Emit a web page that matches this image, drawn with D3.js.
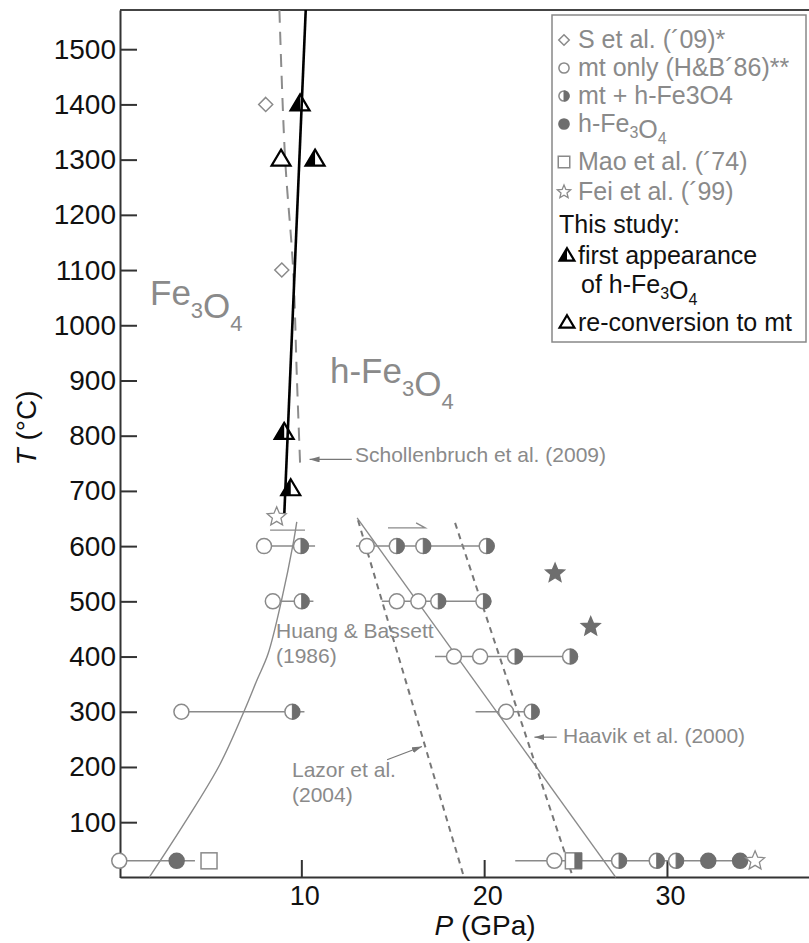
<!DOCTYPE html>
<meta charset="utf-8">
<head>
    <title>Fe3O4 P-T diagram</title>
    <script src="https://cdn.jsdelivr.net/npm/d3@7"></script>
    <style>
        body { margin: 0; background: #fff; }
        text { font-family: "Liberation Sans", Arial, Helvetica, sans-serif; }
    </style>
</head>
<body>
<div id="chart"></div>
<script>
    var width = 809, height = 943;

    // ---- data (P in GPa, T in degC) ----
    var yTicks = [100, 200, 300, 400, 500, 600, 700, 800, 900, 1000, 1100, 1200, 1300, 1400, 1500];
    var xTicks = [10, 20, 30];

    // horizontal run lines: temperature, start P, end P
    var runT = [600, 600, 500, 500, 400, 300, 300, 30, 30];
    var runFrom = [7.63, 12.99, 8.44, 14.4, 17.31, 3.44, 19.53, 0.04, 21.7];
    var runTo = [10.75, 20.49, 10.66, 20.2, 25.07, 10.17, 22.6, 4.18, 34.4];

    var openCircles = [[7.96, 600], [13.58, 600], [8.44, 500], [15.22, 500], [16.4, 500],
        [18.35, 400], [19.78, 400], [3.44, 300], [21.2, 300], [0.04, 30], [23.84, 30]];
    var halfCircles = [[9.98, 600], [15.22, 600], [16.67, 600], [20.14, 600], [10.02, 500],
        [17.49, 500], [19.96, 500], [21.69, 400], [24.7, 400], [9.51, 300], [22.6, 300],
        [27.38, 30], [29.44, 30], [30.5, 30]];
    var filledCircles = [[3.18, 30], [32.26, 30], [34.0, 30]];
    var maoSquares = [[4.95, 30]];
    var maoHalfSquares = [[24.88, 30]];
    var feiOpenStars = [[8.65, 653], [34.82, 30]];
    var feiFilledStars = [[23.88, 551], [25.83, 454]];
    var sDiamonds = [[8.05, 1400], [8.93, 1100]];
    var triFirst = [[9.93, 1400], [10.75, 1300], [9.06, 805], [9.42, 703]];
    var triReconv = [[8.89, 1300]];

    // boundaries
    var thisStudyLine = [[9.07, 660], [10.24, 1571]];
    var schollLine = [[8.80, 1571], [9.11, 1303], [9.55, 1102], [9.76, 901], [9.93, 751]];
    var hbCurve = [[1.68, 0], [3.64, 100], [5.55, 205], [6.92, 305], [7.58, 358],
        [8.18, 405], [8.93, 504], [9.55, 604], [9.75, 644]];
    var hbLine = [[13.05, 651], [27.2, 0]];
    var lazorLine = [[13.1, 647], [18.9, 0]];
    var haavikLine = [[18.41, 642], [24.86, 0]];
    var feiBar = [[8.29, 629], [10.2, 629]];

    var legendLabels = ["S et al. (\u00b409)*", "mt only (H&B\u00b486)**", "mt + h-Fe3O4", "h-Fe_3O_4",
        "Mao et al. (\u00b474)", "Fei et al. (\u00b499)", "This study:", "first appearance",
        "of h-Fe_3O_4", "re-conversion to mt"];
    var legendSymbols = ["diamond", "open", "half", "filled", "square", "star", null, "triFirst", null, "triOpen"];

    // ---- setup ----
    var gray = "#8a8a8a", dark = "#6e6e6e";

    var svg = d3.select("#chart").append("svg")
        .attr("width", width)
        .attr("height", height);

    svg.append("defs").append("marker")
        .attr("id", "arr")
        .attr("viewBox", "0 0 10 6")
        .attr("refX", 10).attr("refY", 3)
        .attr("markerWidth", 10).attr("markerHeight", 6)
        .attr("markerUnits", "userSpaceOnUse")
        .attr("orient", "auto")
        .append("path").attr("d", "M0,0L10,3L0,6Z").attr("fill", "#777");

    var x = d3.scaleLinear().domain([0.08, 37.77]).range([120, 809]);
    var y = d3.scaleLinear().domain([0, 1571]).range([877.4, 10]);

    var line = d3.line().x(d => x(d[0])).y(d => y(d[1]));

    // frame top
    svg.append("line")
        .attr("x1", 120).attr("x2", width)
        .attr("y1", 10).attr("y2", 10)
        .attr("stroke", "#444").attr("stroke-width", 2);

    // axes
    var yAxis = svg.append("g")
        .attr("transform", "translate(120,0)")
        .call(d3.axisLeft(y).tickValues(yTicks).tickFormat(d3.format("d"))
            .tickSize(-17).tickSizeOuter(0).tickPadding(4));
    yAxis.selectAll("text").attr("font-size", 28).attr("fill", "#111");

    var xAxis = svg.append("g")
        .attr("transform", "translate(0,877)")
        .call(d3.axisBottom(x).tickValues(xTicks).tickFormat(d3.format("d"))
            .tickSize(-17).tickSizeOuter(0).tickPadding(9));
    xAxis.selectAll("text").attr("font-size", 27).attr("fill", "#111").attr("dx", 3);

    svg.selectAll(".domain, .tick line").attr("stroke", "#333").attr("stroke-width", 2);

    // axis titles
    var yt = svg.append("text")
        .attr("transform", "translate(36,428) rotate(-90)")
        .attr("text-anchor", "middle")
        .attr("font-size", 28).attr("fill", "#111");
    yt.append("tspan").attr("font-style", "italic").text("T");
    yt.append("tspan").text(" (\u00b0C)");

    var xt = svg.append("text")
        .attr("x", 485).attr("y", 935)
        .attr("text-anchor", "middle")
        .attr("font-size", 28).attr("fill", "#111");
    xt.append("tspan").attr("font-style", "italic").text("P");
    xt.append("tspan").text(" (GPa)");

    // ---- boundaries ----
    var plot = svg.append("g");

    plot.append("path").datum(hbCurve)
        .attr("d", line.curve(d3.curveCatmullRom))
        .attr("fill", "none").attr("stroke", gray).attr("stroke-width", 1.4);
    line.curve(d3.curveLinear);

    plot.append("path").datum(hbLine).attr("d", line)
        .attr("fill", "none").attr("stroke", gray).attr("stroke-width", 1.4);

    [lazorLine, haavikLine].forEach(function (l) {
        plot.append("path").datum(l).attr("d", line)
            .attr("fill", "none").attr("stroke", "#777").attr("stroke-width", 2)
            .attr("stroke-dasharray", "6,5");
    });

    plot.append("path").datum(schollLine)
        .attr("d", line.curve(d3.curveCatmullRom))
        .attr("fill", "none").attr("stroke", "#8c8c8c").attr("stroke-width", 2)
        .attr("stroke-dasharray", "13,9");
    line.curve(d3.curveLinear);

    plot.append("path").datum(feiBar).attr("d", line)
        .attr("fill", "none").attr("stroke", gray).attr("stroke-width", 1.4);

    // run lines
    plot.selectAll(".run")
        .data(runT)
        .enter().append("line")
        .attr("class", "run")
        .attr("x1", (d, i) => x(runFrom[i]))
        .attr("x2", (d, i) => x(runTo[i]))
        .attr("y1", d => y(d)).attr("y2", d => y(d))
        .attr("stroke", gray).attr("stroke-width", 1.5);

    // ---- symbols ----
    function starPath(R) {
        var pts = [];
        for (var i = 0; i < 10; i++) {
            var r = i % 2 ? R * 0.45 : R;
            var a = -Math.PI / 2 + i * Math.PI / 5;
            pts.push([(r * Math.cos(a)).toFixed(2), (r * Math.sin(a)).toFixed(2)]);
        }
        return "M" + pts.join("L") + "Z";
    }

    function drawSymbol(g, type, cx, cy, k) {
        var s = g.append("g").attr("transform", "translate(" + cx + "," + cy + ")");
        var r = 7.5 * k;
        if (type == "open" || type == "half" || type == "filled") {
            s.append("circle").attr("r", r)
                .attr("fill", type == "filled" ? dark : "#fff")
                .attr("stroke", type == "filled" ? dark : gray).attr("stroke-width", 1.5);
            if (type == "half") {
                s.append("path")
                    .attr("d", "M0," + (-r) + "A" + r + "," + r + " 0 0 1 0," + r + "Z")
                    .attr("fill", dark).attr("stroke", dark).attr("stroke-width", 1);
            }
        } else if (type == "square" || type == "halfSquare") {
            var h = 8 * k;
            s.append("rect").attr("x", -h).attr("y", -h).attr("width", 2 * h).attr("height", 2 * h)
                .attr("fill", "#fff").attr("stroke", gray).attr("stroke-width", 1.5);
            if (type == "halfSquare") {
                s.append("rect").attr("x", 1).attr("y", -h).attr("width", h).attr("height", 2 * h)
                    .attr("fill", dark);
            }
        } else if (type == "diamond") {
            var d = 7 * k;
            s.append("path").attr("d", "M0," + (-d) + "L" + d + ",0L0," + d + "L" + (-d) + ",0Z")
                .attr("fill", "#fff").attr("stroke", gray).attr("stroke-width", 1.5);
        } else if (type == "star" || type == "starFilled") {
            s.append("path").attr("d", starPath(10 * k))
                .attr("fill", type == "starFilled" ? dark : "#fff")
                .attr("stroke", type == "starFilled" ? dark : gray).attr("stroke-width", 1.3);
        } else if (type == "triFirst" || type == "triOpen") {
            var w = 9.5 * k, top = -10 * k, bot = 6 * k;
            s.append("path").attr("d", "M0," + top + "L" + w + "," + bot + "L" + (-w) + "," + bot + "Z")
                .attr("fill", "#fff").attr("stroke", "#000").attr("stroke-width", 2.2)
                .attr("stroke-linejoin", "miter");
            if (type == "triFirst") {
                s.append("path").attr("d", "M0," + top + "L0," + bot + "L" + (-w) + "," + bot + "Z")
                    .attr("fill", "#000");
            }
        }
    }

    var marks = svg.append("g");
    function drawAll(arr, type) {
        arr.forEach(function (p) { drawSymbol(marks, type, x(p[0]), y(p[1]), 1); });
    }
    drawAll(sDiamonds, "diamond");
    drawAll(openCircles, "open");
    drawAll(halfCircles, "half");
    drawAll(filledCircles, "filled");
    drawAll(maoSquares, "square");
    drawAll(maoHalfSquares, "halfSquare");
    drawAll(feiOpenStars, "star");
    drawAll(feiFilledStars, "starFilled");
    drawAll(triFirst, "triFirst");
    drawAll(triReconv, "triOpen");

    // this study boundary on top
    svg.append("path").datum(thisStudyLine).attr("d", line)
        .attr("fill", "none").attr("stroke", "#000").attr("stroke-width", 2.6);

    // ---- annotations ----
    function rich(sel, str, subSize, subDy) {
        str.split(/(_\d)/).filter(s => s.length).forEach(function (part) {
            if (part[0] == "_") {
                sel.append("tspan").attr("font-size", subSize).attr("dy", subDy).text(part[1]);
                sel.append("tspan").attr("dy", -subDy).text("");
            } else {
                sel.append("tspan").text(part);
            }
        });
    }

    var ann = svg.append("g").attr("fill", gray);
    rich(ann.append("text").attr("x", 150).attr("y", 305).attr("font-size", 35), "Fe_3O_4", 22, 13);
    rich(ann.append("text").attr("x", 330).attr("y", 383).attr("font-size", 35), "h-Fe_3O_4", 22, 13);

    ann.append("text").attr("x", 355).attr("y", 462).attr("font-size", 21).text("Schollenbruch et al. (2009)");
    ann.append("text").attr("x", 276).attr("y", 638).attr("font-size", 21).text("Huang & Bassett");
    ann.append("text").attr("x", 276).attr("y", 663).attr("font-size", 21).text("(1986)");
    ann.append("text").attr("x", 292).attr("y", 777).attr("font-size", 21).text("Lazor et al.");
    ann.append("text").attr("x", 292).attr("y", 802).attr("font-size", 21).text("(2004)");
    ann.append("text").attr("x", 563).attr("y", 743).attr("font-size", 21).text("Haavik et al. (2000)");

    // pointer arrows [from, to] in data units
    var pointers = [[[12.76, 757], [10.45, 757]], [[14.69, 213], [16.6, 237]], [[23.97, 254], [22.75, 254]]];
    pointers.forEach(function (p) {
        svg.append("line")
            .attr("x1", x(p[0][0])).attr("y1", y(p[0][1]))
            .attr("x2", x(p[1][0])).attr("y2", y(p[1][1]))
            .attr("stroke", "#777").attr("stroke-width", 1.2)
            .attr("marker-end", "url(#arr)");
    });

    // half-arrow above the 600 degC run
    var hx1 = x(14.74), hx2 = x(16.77), hy = y(633);
    svg.append("path")
        .attr("d", "M" + hx1 + "," + hy + "L" + hx2 + "," + hy + "L" + (hx2 - 9) + "," + (hy - 5))
        .attr("fill", "none").attr("stroke", gray).attr("stroke-width", 1.4);

    // ---- legend ----
    var legendBase = [48, 76, 104, 132, 170, 200, 233, 264, 293, 331];
    var leg = svg.append("g");
    leg.append("rect")
        .attr("x", 552).attr("y", 15).attr("width", 254).attr("height", 327)
        .attr("fill", "#fff").attr("stroke", "#888").attr("stroke-width", 1.5);

    legendLabels.forEach(function (lab, i) {
        var sym = legendSymbols[i];
        var isStudy = i >= 6;
        var tx = i == 6 ? 559 : (i == 8 ? 581 : 578);
        var t = leg.append("text")
            .attr("x", tx).attr("y", legendBase[i])
            .attr("font-size", 25)
            .attr("fill", isStudy ? "#111" : gray);
        rich(t, lab, 16, 6);
        if (sym) {
            var k = sym.indexOf("tri") == 0 ? 0.78 : (sym == "diamond" ? 0.75 : (sym == "square" ? 0.72 : (sym == "star" ? 0.7 : 0.68)));
            drawSymbol(leg, sym, sym.indexOf("tri") == 0 ? 567 : 564, legendBase[i] - 8, k);
        }
    });
</script>
</body>
</html>
